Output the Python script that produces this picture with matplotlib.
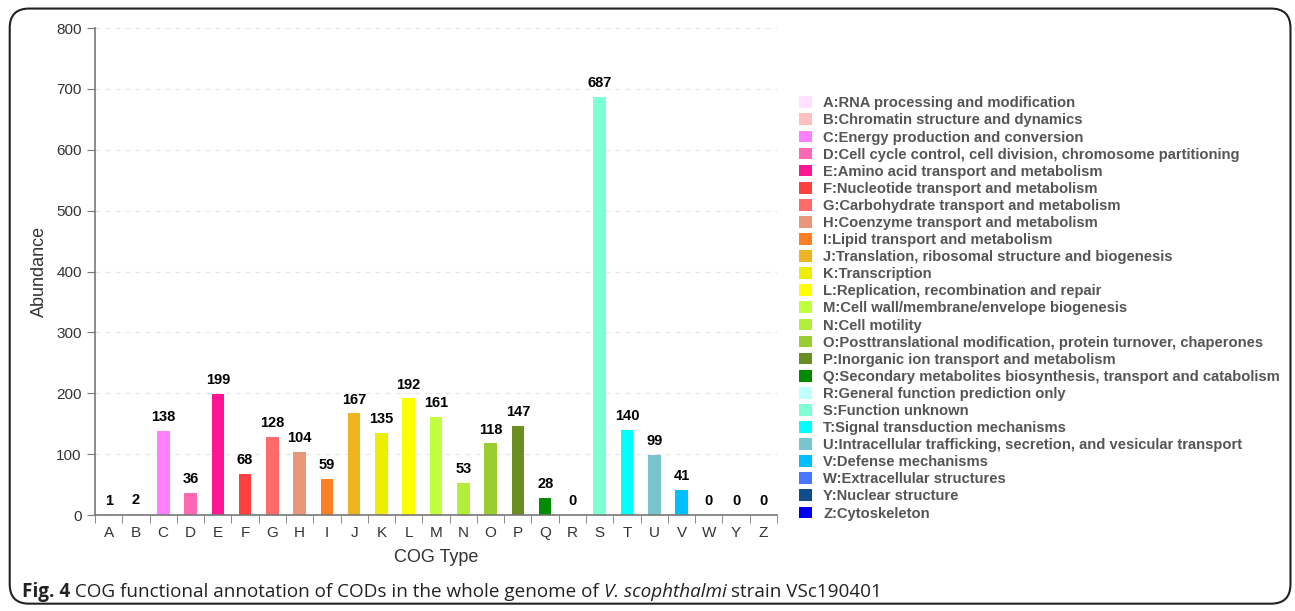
import numpy as np
import matplotlib.pyplot as plt
from matplotlib.patches import FancyBboxPatch, Patch

cats = ['A', 'B', 'C', 'D', 'E', 'F', 'G', 'H', 'I', 'J', 'K', 'L', 'M',
        'N', 'O', 'P', 'Q', 'R', 'S', 'T', 'U', 'V', 'W', 'Y', 'Z']
counts = [1, 2, 138, 36, 199, 68, 128, 104, 59, 167, 135, 192, 161,
          53, 118, 147, 28, 0, 687, 140, 99, 41, 0, 0, 0]
descs = [
    'RNA processing and modification',
    'Chromatin structure and dynamics',
    'Energy production and conversion',
    'Cell cycle control, cell division, chromosome partitioning',
    'Amino acid transport and metabolism',
    'Nucleotide transport and metabolism',
    'Carbohydrate transport and metabolism',
    'Coenzyme transport and metabolism',
    'Lipid transport and metabolism',
    'Translation, ribosomal structure and biogenesis',
    'Transcription',
    'Replication, recombination and repair',
    'Cell wall/membrane/envelope biogenesis',
    'Cell motility',
    'Posttranslational modification, protein turnover, chaperones',
    'Inorganic ion transport and metabolism',
    'Secondary metabolites biosynthesis, transport and catabolism',
    'General function prediction only',
    'Function unknown',
    'Signal transduction mechanisms',
    'Intracellular trafficking, secretion, and vesicular transport',
    'Defense mechanisms',
    'Extracellular structures',
    'Nuclear structure',
    'Cytoskeleton',
]
colors = ['#FFE0FF', '#FFC0C0', '#FF80FF', '#FF69B4', '#FF1493', '#FF4040',
          '#FF6A6A', '#E9967A', '#FF7F24', '#EEB422', '#EEEE00', '#FFFF00',
          '#C0FF3E', '#B3EE3A', '#9ACD32', '#6B8E23', '#008B00', '#C1FFFF',
          '#7FFFD4', '#00FFFF', '#7AC5CD', '#00BFFF', '#4876FF', '#104E8B',
          '#0000EE']

plt.rcParams['font.family'] = ['Liberation Sans', 'DejaVu Sans']

fig = plt.figure(figsize=(12.95, 6.11), dpi=100)
ax = fig.add_axes([0.0734, 0.157, 0.5266, 0.797])

x = np.arange(len(cats))
ax.bar(x, counts, width=0.46, color=colors, zorder=2)
for xi, v in zip(x, counts):
    ax.text(xi, v + 11, str(v), ha='center', va='bottom', fontsize=10.5,
            fontweight='bold', color='black')

ax.set_xlim(-0.5, len(cats) - 0.5)
ax.set_ylim(0, 800)
ax.set_yticks(np.arange(0, 801, 100))
ax.set_xticks(x)
ax.set_xticklabels(cats)
ax.set_xticks(np.arange(-0.5, len(cats), 1), minor=True)
ax.tick_params(axis='x', which='major', length=0, pad=8, labelsize=11, labelcolor='#333333')
ax.tick_params(axis='x', which='minor', length=6, color='#777777', direction='out')
ax.tick_params(axis='y', length=6, color='#777777', labelsize=11, labelcolor='#333333')
for s in ['top', 'right']:
    ax.spines[s].set_visible(False)
for s in ['left', 'bottom']:
    ax.spines[s].set_color('#777777')
    ax.spines[s].set_linewidth(1.2)
ax.yaxis.grid(True, color='#e6e6e6', linestyle=(0, (4, 4)), linewidth=0.9, zorder=0)
ax.set_axisbelow(True)
ax.set_ylabel('Abundance', fontsize=13, color='#333333', labelpad=6)
ax.set_xlabel('COG Type', fontsize=13, color='#333333', labelpad=6)

handles = [Patch(facecolor=c, edgecolor='none') for c in colors]
labels = [f'{c}:{d}' for c, d in zip(cats, descs)]
leg = fig.legend(handles, labels, loc='upper left', bbox_to_anchor=(0.6125, 0.852),
                 frameon=False, fontsize=10.6, handlelength=0.85, handleheight=0.85,
                 handletextpad=0.8, labelspacing=0.21, borderaxespad=0)
for t in leg.get_texts():
    t.set_fontweight('bold')
    t.set_color('#555555')

# rounded frame
frame = FancyBboxPatch((0.0075, 0.012), 0.989, 0.974, transform=fig.transFigure,
                       boxstyle='round,pad=0,rounding_size=0.015',
                       facecolor='none', edgecolor='#222222', linewidth=1.5,
                       mutation_aspect=1295 / 611)
fig.patches.append(frame)

# caption
fig.canvas.draw()
r = fig.canvas.get_renderer()
parts = [('Fig. 4', 'bold', 'normal'),
         (' COG functional annotation of CODs in the whole genome of ', 'normal', 'normal'),
         ('V. scophthalmi', 'normal', 'italic'),
         (' strain VSc190401', 'normal', 'normal')]
xpos = 22
for txt, w, st in parts:
    t = fig.text(xpos / 1295, 1 - 592 / 611, txt, fontsize=13.6, fontweight=w,
                 fontstyle=st, family='Open Sans', color='#222222', va='center')
    bb = t.get_window_extent(renderer=r)
    xpos = bb.x1

fig.savefig('out.png', dpi=100)
